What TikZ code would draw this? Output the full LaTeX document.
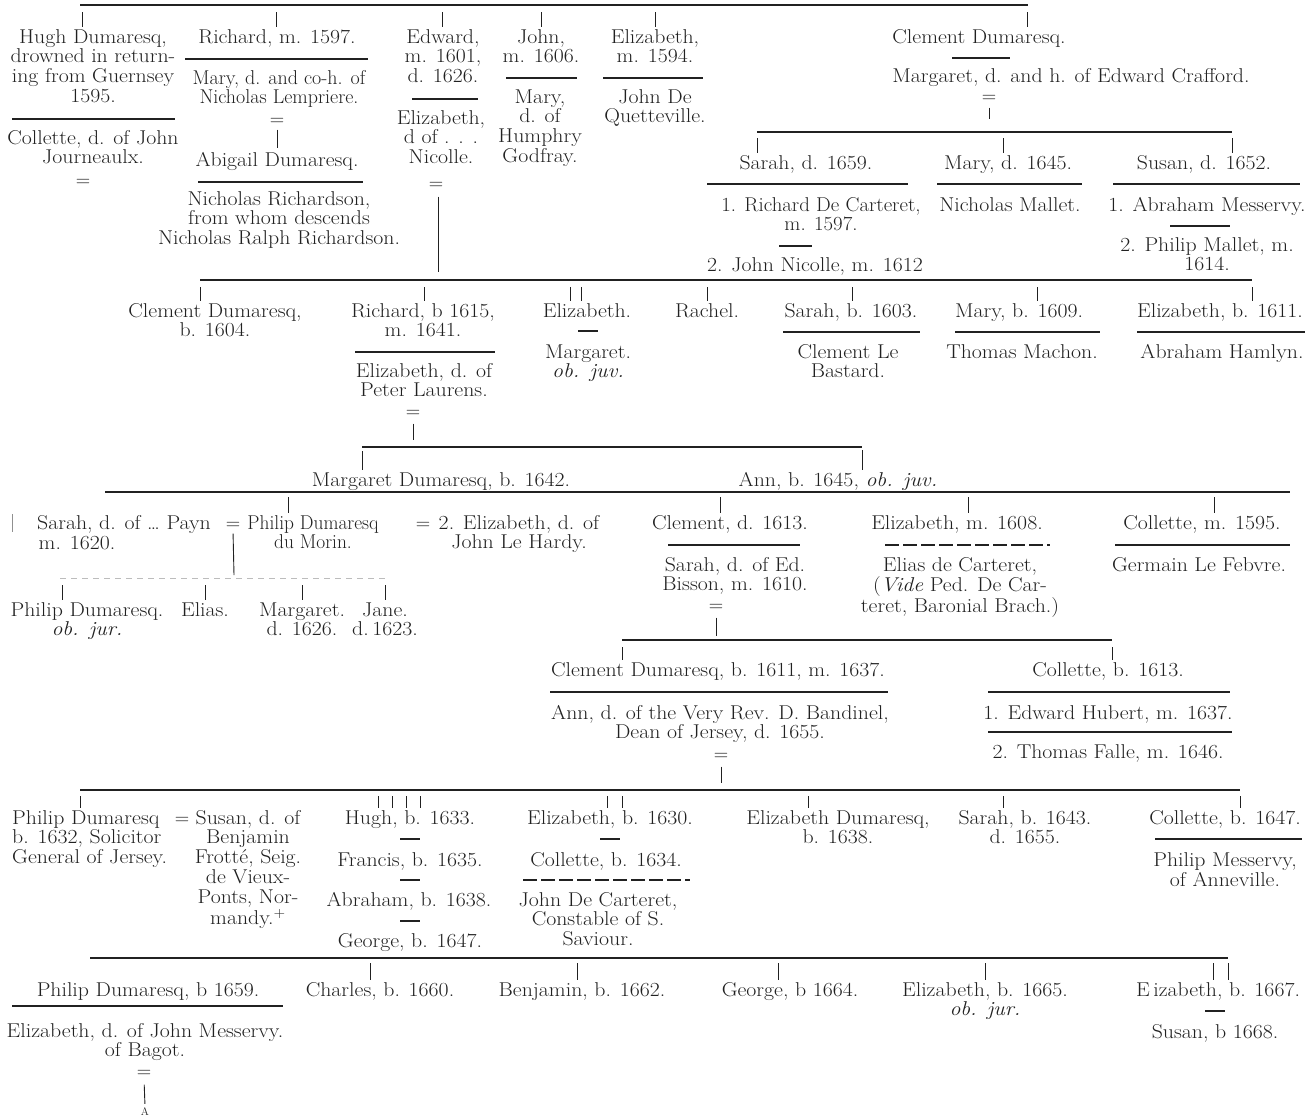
\documentclass[tikz,border=0pt]{standalone}
\usepackage{fontspec}
\usepackage{graphicx}
\newcommand{\fsz}{\fontsize{20}{19.8}\selectfont}
\newcommand{\tb}[2][1.09]{\scalebox{#1}[1]{\begin{tabular}[t]{@{}c@{}}#2\end{tabular}}}
\newcommand{\tbl}[2][1.09]{\scalebox{#1}[1]{\begin{tabular}[t]{@{}l@{}}#2\end{tabular}}}
\definecolor{ink}{gray}{0.13}
\begin{document}
\begin{tikzpicture}[x=1pt,y=-1pt,
  nm/.style={anchor=base,inner sep=1.5pt,font=\fsz,text=ink},
  rl/.style={draw=ink,line width=1.2pt},
  tk/.style={draw=ink,line width=0.9pt},
  fnt/.style={draw=ink!30,line width=0.8pt,dash pattern=on 6pt off 5pt},
  brk/.style={draw=ink,line width=1.1pt,dash pattern=on 14pt off 4pt}]
\fill[white] (0,0) rectangle (1315,1117);
\useasboundingbox (0,0) rectangle (1315,1117);

% ---------------- generation 1 ----------------
\draw[rl] (80,5) -- (1028,5);
\node[nm] (hugh) at (93,43) {\tb{Hugh Dumaresq,\\drowned in return-\\ing from Guernsey\\1595.}};
\draw[rl] (12,119) -- (175,119);
\node[nm] (hughw) at (93,144) {\tb{Collette, d. of John\\Journeaulx.}};
\node[nm] (hugheq) at (83,186) {=};

\node[nm] (rich) at (277,43) {\tb{Richard, m. 1597.}};
\draw[rl] (185,59) -- (368,59);
\node[nm] (richw) at (279,84) {\tb[1.0]{Mary, d. and co-h. of\\Nicholas Lempriere.}};
\node[nm] (richeq) at (277,125) {=};
\node[nm] (abig) at (277,166) {\tb{Abigail Dumaresq.}};
\draw[rl] (198,182) -- (363,182);
\node[nm] (nrich) at (279,205) {\tb{Nicholas Richardson,\\from whom descends\\Nicholas Ralph Richardson.}};
\draw[tk,shorten <=3pt,shorten >=2pt] (richeq.south) -- (richeq.south |- abig.north);

\node[nm] (edw) at (443,43) {\tb{Edward,\\m. 1601,\\d. 1626.}};
\draw[rl] (412,99) -- (478,99);
\node[nm] (edwife) at (441,124) {\tb{Elizabeth,\\d of . . .\\Nicolle.}};
\node[nm] (edeq) at (436,189) {=};

\node[nm] (john) at (541,43) {\tb{John,\\m. 1606.}};
\draw[rl] (506,78) -- (577,78);
\node[nm] (johnw) at (540,103) {\tb{Mary,\\d. of\\Humphry\\Godfray.}};

\node[nm] (eliza) at (655,43) {\tb{Elizabeth,\\m. 1594.}};
\draw[rl] (603,78) -- (703,78);
\node[nm] (elizah) at (655,103) {\tb{John De\\Quetteville.}};

\node[nm] (clem) at (979,43) {\tb{Clement Dumaresq.}};
\draw[rl] (952,58) -- (1010,58);
\node[nm] (clemw) at (1071,82) {\tb{Margaret, d. and h. of Edward Crafford.}};
\node[nm] (clemeq) at (989,102) {=};

\coordinate (k1) at (82,12);
\coordinate (k2) at (276,12);
\coordinate (k3) at (442,12);
\coordinate (k4) at (541,12);
\coordinate (k5) at (655,12);
\coordinate (k6) at (1027,12);
\draw[tk] (k1) -- (k1 |- hugh.north);
\draw[tk] (k2) -- (k2 |- rich.north);
\draw[tk] (k3) -- (k3 |- edw.north);
\draw[tk] (k4) -- (k4 |- john.north);
\draw[tk] (k5) -- (k5 |- eliza.north);
\draw[tk] (k6) -- (k6 |- clem.north);

% children of Clement
\draw[rl] (757,132) -- (1232,132);
\draw[tk,shorten <=4pt] (clemeq.south) -- (989,119);
\node[nm] (sar1) at (806,169) {\tb{Sarah, d. 1659.}};
\draw[rl] (707,184) -- (908,184);
\node[nm] (sar1h) at (821,211) {\tb[1.04]{1. Richard De Carteret,\\m. 1597.}};
\draw[rl] (779,246) -- (812,246);
\node[nm] (sar1h2) at (815,271) {\tb{2. John Nicolle, m. 1612}};
\node[nm] (mar1) at (1008,169) {\tb{Mary, d. 1645.}};
\draw[rl] (937,184) -- (1082,184);
\node[nm] (mar1h) at (1010,211) {\tb{Nicholas Mallet.}};
\node[nm] (sus1) at (1204,169) {\tb{Susan, d. 1652.}};
\draw[rl] (1113,184) -- (1300,184);
\node[nm] (sus1h) at (1207,211) {\tb{1. Abraham Messervy.}};
\draw[rl] (1170,226) -- (1230,226);
\node[nm] (sus1h2) at (1207,251) {\tb{2. Philip Mallet, m.\\1614.}};
\coordinate (k7) at (757,138);
\coordinate (k8) at (1003,138);
\coordinate (k9) at (1232,138);
\draw[tk] (k7) -- (k7 |- sar1.north);
\draw[tk] (k8) -- (k8 |- mar1.north);
\draw[tk] (k9) -- (k9 |- sus1.north);

% ---------------- generation 2 ----------------
\coordinate (edv) at (438,272);
\draw[tk,shorten <=6pt] (edv |- edeq.south) -- (edv);
\draw[rl] (200,280) -- (1252,280);
\node[nm] (clem2) at (215,317) {\tb{Clement Dumaresq,\\b. 1604.}};
\node[nm] (rich2) at (423,317) {\tb{Richard, b 1615,\\m. 1641.}};
\draw[rl] (355,352) -- (495,352);
\node[nm] (rich2w) at (424,377) {\tb{Elizabeth, d. of\\Peter Laurens.}};
\node[nm] (rich2eq) at (413,417) {=};
\node[nm] (eliz2) at (587,317) {\tb{Elizabeth.}};
\draw[rl] (578,331) -- (598,331);
\node[nm] (eliz2h) at (588,358) {\tb{Margaret.\\\textit{ob. juv.}}};
\node[nm] (rach) at (707,317) {\tb{Rachel.}};
\node[nm] (sar2) at (851,317) {\tb{Sarah, b. 1603.}};
\draw[rl] (783,332) -- (920,332);
\node[nm] (sar2h) at (848,358) {\tb{Clement Le\\Bastard.}};
\node[nm] (mar2) at (1019,317) {\tb{Mary, b. 1609.}};
\draw[rl] (955,332) -- (1100,332);
\node[nm] (mar2h) at (1022,358) {\tb{Thomas Machon.}};
\node[nm] (eliz3) at (1220,317) {\tb{Elizabeth, b. 1611.}};
\draw[rl] (1137,332) -- (1305,332);
\node[nm] (eliz3h) at (1222,358) {\tb{Abraham Hamlyn.}};
\coordinate (m1) at (200,287);
\coordinate (m2) at (424,287);
\coordinate (m3) at (570,287);
\coordinate (m4) at (581,287);
\coordinate (m5) at (707,287);
\coordinate (m6) at (852,287);
\coordinate (m7) at (1037,287);
\coordinate (m8) at (1252,287);
\draw[tk] (m1) -- (m1 |- clem2.north);
\draw[tk] (m2) -- (m2 |- rich2.north);
\draw[tk] (m3) -- (m3 |- eliz2.north);
\draw[tk] (m4) -- (m4 |- eliz2.north);
\draw[tk] (m5) -- (m5 |- rach.north);
\draw[tk] (m6) -- (m6 |- sar2.north);
\draw[tk] (m7) -- (m7 |- mar2.north);
\draw[tk] (m8) -- (m8 |- eliz3.north);

% ---------------- generation 3 ----------------
\coordinate (g3) at (413,440);
\draw[tk,shorten <=5pt] (rich2eq.south) -- (g3);
\draw[rl] (362,447) -- (862,447);
\node[nm] (marg3) at (441,486) {\tb{Margaret Dumaresq, b. 1642.}};
\node[nm] (ann3) at (838,486) {\tb{Ann, b. 1645, \textit{ob. juv.}}};
\coordinate (n1) at (362,451);
\coordinate (n2) at (862,450);
\draw[tk] (n1) -- (n1 |- marg3.north);
\draw[tk] (n2) -- (n2 |- ann3.north);

% ---------------- generation 4 ----------------
\draw[rl] (105,492) -- (1290,492);
\draw[tk,draw=ink!50] (12,514) -- (12,532);
\node[nm] (sar4) at (124,529) {\tb{Sarah, d. of \ldots\ Payn}};
\node[nm] (sar4b) at (77,549) {\tb{m. 1620.}};
\node[nm] (eq4a) at (233,529) {=};
\node[nm] (phil4) at (313,529) {\tb[0.97]{Philip Dumaresq\\du Morin.}};
\node[nm] (eq4b) at (423,529) {=};
\node[nm] (eliz4) at (519,529) {\tb{2. Elizabeth, d. of\\John Le Hardy.}};
\coordinate (pv) at (234,575);
\draw[tk,shorten <=3pt] (eq4a.south) -- (pv);
\draw[fnt] (60,578) -- (385,578);
\node[nm] (ph5) at (87,616) {\tb{Philip Dumaresq.\\\textit{ob. jur.}}};
\node[nm] (elias) at (205,616) {\tb{Elias.}};
\node[nm] (marg5) at (302,616) {\tb{Margaret.\\d. 1626.}};
\node[nm] (jane) at (385,616) {\tb{Jane.\\d.\,1623.}};
\coordinate (p1) at (62,585);
\coordinate (p2) at (205,585);
\coordinate (p3) at (302,585);
\coordinate (p4) at (385,585);
\draw[tk] (p1) -- (p1 |- ph5.north);
\draw[tk] (p2) -- (p2 |- elias.north);
\draw[tk] (p3) -- (p3 |- marg5.north);
\draw[tk] (p4) -- (p4 |- jane.north);

\node[nm] (clem4) at (730,529) {\tb{Clement, d. 1613.}};
\draw[rl] (668,545) -- (800,545);
\node[nm] (clem4w) at (735,571) {\tb{Sarah, d. of Ed.\\Bisson, m. 1610.}};
\node[nm] (clem4eq) at (716,611) {=};
\node[nm] (eliz5) at (957,529) {\tb{Elizabeth, m. 1608.}};
\draw[brk] (885,545) -- (1050,545);
\node[nm] (eliz5h) at (960,571) {\tb{Elias de Carteret,\\(\textit{Vide} Ped. De Car-\\teret, Baronial Brach.)}};
\node[nm] (coll4) at (1202,529) {\tb{Collette, m. 1595.}};
\draw[rl] (1115,545) -- (1290,545);
\node[nm] (coll4h) at (1199,571) {\tb{Germain Le Febvre.}};
\coordinate (q1) at (288,497);
\coordinate (q2) at (720,497);
\coordinate (q3) at (968,497);
\coordinate (q4) at (1214,497);
\draw[tk] (q1) -- (q1 |- phil4.north);
\draw[tk] (q2) -- (q2 |- clem4.north);
\draw[tk] (q3) -- (q3 |- eliz5.north);
\draw[tk] (q4) -- (q4 |- coll4.north);

% ---------------- generation 5 ----------------
\coordinate (g5) at (716,636);
\draw[tk,shorten <=5pt] (clem4eq.south) -- (g5);
\draw[rl] (622,640) -- (1112,640);
\node[nm] (clem5) at (718,676) {\tb{Clement Dumaresq, b. 1611, m. 1637.}};
\draw[rl] (550,692) -- (888,692);
\node[nm] (clem5w) at (720,719) {\tb{Ann, d. of the Very Rev. D. Bandinel,\\Dean of Jersey, d. 1655.}};
\node[nm] (clem5eq) at (721,760) {=};
\node[nm] (coll5) at (1108,676) {\tb{Collette, b. 1613.}};
\draw[rl] (988,692) -- (1230,692);
\node[nm] (coll5h1) at (1108,719) {\tb{1. Edward Hubert, m. 1637.}};
\draw[rl] (988,732) -- (1232,732);
\node[nm] (coll5h2) at (1108,758) {\tb{2. Thomas Falle, m. 1646.}};
\coordinate (r1) at (622,647);
\coordinate (r2) at (1112,647);
\draw[tk] (r1) -- (r1 |- clem5.north);
\draw[tk] (r2) -- (r2 |- coll5.north);

% ---------------- generation 6 ----------------
\coordinate (g6) at (721,783);
\draw[tk,shorten <=5pt] (clem5eq.south) -- (g6);
\draw[rl] (80,790) -- (1240,790);
\node[nm,anchor=base west] (phil6) at (10.5,824) {\tbl{Philip Dumaresq\\b. 1632, Solicitor\\General of Jersey.}};
\node[nm] (eq6) at (182,824) {=};
\node[nm] (sus6) at (248,824) {\tb{Susan, d. of\\Benjamin\\Frotté, Seig.\\de Vieux-\\Ponts, Nor-\\mandy.\textsuperscript{+}}};
\node[nm] (hugh6) at (410,824) {\tb{Hugh, b. 1633.}};
\draw[rl] (400,839) -- (420,839);
\node[nm] (fran6) at (410,866) {\tb{Francis, b. 1635.}};
\draw[rl] (400,880) -- (420,880);
\node[nm] (abr6) at (409,906) {\tb{Abraham, b. 1638.}};
\draw[rl] (400,921) -- (420,921);
\node[nm] (geo6) at (410,947) {\tb{George, b. 1647.}};
\node[nm] (eliz6) at (610,824) {\tb{Elizabeth, b. 1630.}};
\draw[rl] (600,839) -- (620,839);
\node[nm] (coll6) at (606,866) {\tb{Collette, b. 1634.}};
\draw[brk] (523,880) -- (690,880);
\node[nm] (john6) at (598,906) {\tb{John De Carteret,\\Constable of S.\\Saviour.}};
\node[nm] (ed6) at (838,824) {\tb{Elizabeth Dumaresq,\\b. 1638.}};
\node[nm] (sar6) at (1025,824) {\tb{Sarah, b. 1643.\\d. 1655.}};
\node[nm] (col6) at (1225,824) {\tb{Collette, b. 1647.}};
\draw[rl] (1155,839) -- (1302,839);
\node[nm] (col6h) at (1225,866) {\tb{Philip Messervy,\\of Anneville.}};
\coordinate (s1) at (80,796);
\coordinate (s2) at (378,796);
\coordinate (s3) at (392,796);
\coordinate (s4) at (406,796);
\coordinate (s5) at (420,796);
\coordinate (s6) at (607,796);
\coordinate (s7) at (622,796);
\coordinate (s8) at (808,796);
\coordinate (s9) at (1003,796);
\coordinate (s10) at (1240,796);
\draw[tk] (s1) -- (s1 |- phil6.north);
\draw[tk] (s2) -- (s2 |- hugh6.north);
\draw[tk] (s3) -- (s3 |- hugh6.north);
\draw[tk] (s4) -- (s4 |- hugh6.north);
\draw[tk] (s5) -- (s5 |- hugh6.north);
\draw[tk] (s6) -- (s6 |- eliz6.north);
\draw[tk] (s7) -- (s7 |- eliz6.north);
\draw[tk] (s8) -- (s8 |- ed6.north);
\draw[tk] (s9) -- (s9 |- sar6.north);
\draw[tk] (s10) -- (s10 |- col6.north);

% ---------------- generation 7 ----------------
\draw[rl] (90,958) -- (1228,958);
\node[nm] (phil7) at (148,996) {\tb{Philip Dumaresq, b 1659.}};
\draw[rl] (12,1006) -- (283,1006);
\node[nm] (phil7w) at (145,1037) {\tb{Elizabeth, d. of John Messervy.\\of Bagot.}};
\node[nm] (phil7eq) at (144,1077) {=};
\node[anchor=base,inner sep=1pt,font=\fontsize{11}{12}\selectfont,text=ink] (aa) at (145,1115) {A};
\draw[tk,shorten <=6pt,shorten >=2pt] (phil7eq.south) -- (aa.north);
\node[nm] (charles) at (380,996) {\tb{Charles, b. 1660.}};
\node[nm] (benj) at (582,996) {\tb{Benjamin, b. 1662.}};
\node[nm] (geo7) at (790,996) {\tb{George, b 1664.}};
\node[nm] (eliz7) at (985,996) {\tb{Elizabeth, b. 1665.\\\textit{ob. jur.}}};
\node[nm] (eliz8) at (1218,996) {\tb{E\,izabeth, b. 1667.}};
\draw[rl] (1205,1011) -- (1225,1011);
\node[nm] (sus7) at (1215,1038) {\tb{Susan, b 1668.}};
\coordinate (u1) at (370,963);
\coordinate (u2) at (577,963);
\coordinate (u3) at (778,963);
\coordinate (u4) at (985,963);
\coordinate (u5) at (1213,963);
\coordinate (u6) at (1228,963);
\draw[tk] (u1) -- (u1 |- charles.north);
\draw[tk] (u2) -- (u2 |- benj.north);
\draw[tk] (u3) -- (u3 |- geo7.north);
\draw[tk] (u4) -- (u4 |- eliz7.north);
\draw[tk] (u5) -- (u5 |- eliz8.north);
\draw[tk] (u6) -- (u6 |- eliz8.north);
\end{tikzpicture}
\end{document}
